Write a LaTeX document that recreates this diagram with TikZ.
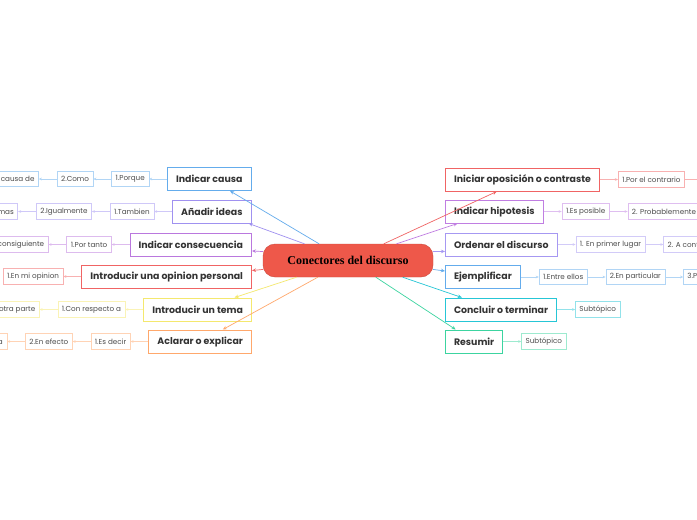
\documentclass[tikz,border=0pt]{standalone}
\usepackage{fontspec}
\setmainfont{Poppins}
\newfontfamily\hubfont{Liberation Serif}
\usetikzlibrary{arrows.meta,positioning}
\definecolor{hubred}{RGB}{238,88,74}
\definecolor{causablue}{RGB}{100,172,236}
\definecolor{ideaslav}{RGB}{160,145,240}
\definecolor{consecpurp}{RGB}{186,120,222}
\definecolor{opinionred}{RGB}{240,100,100}
\definecolor{temayellow}{RGB}{244,232,110}
\definecolor{aclararorange}{RGB}{255,168,108}
\definecolor{hipopurp}{RGB}{192,126,226}
\definecolor{ordenlav}{RGB}{166,152,242}
\definecolor{concluteal}{RGB}{38,198,214}
\definecolor{resumgreen}{RGB}{60,212,160}
\tikzset{
    % central topic (red pill)
    hubnode/.style={
        rectangle, rounded corners=12pt, draw=hubred!85!black, fill=hubred,
        minimum width=170pt, minimum height=33pt, inner sep=0pt,
        font=\hubfont\fontsize{12}{14}\selectfont\bfseries, text=black
    },
    % main topics, coloured frame
    topic/.style={
        rectangle, draw=#1, fill=white, line width=1pt,
        inner xsep=8.5pt, inner ysep=0pt, minimum height=23pt,
        font=\fontsize{9.4}{11}\selectfont\bfseries, text=black!80
    },
    % subtopics, lighter frame
    subtopic/.style={
        rectangle, draw=#1!50, fill=white, line width=0.6pt,
        inner xsep=4pt, inner ysep=0pt, minimum height=15.5pt,
        font=\fontsize{7.2}{9}\selectfont, text=black!70
    },
    % connectors
    branch/.style={draw=#1, line width=0.7pt, -{Stealth[length=4pt,width=3.5pt]}},
    twig/.style={draw=#1!50, line width=0.6pt, -{Stealth[length=3pt,width=2.6pt]}},
}

\begin{document}
\begin{tikzpicture}[x=1pt,y=-1pt]
      \fill[white] (0,0) rectangle (697,520);
      \useasboundingbox (0,0) rectangle (697,520);
      \node[hubnode] (hub) at (348,260.5) {Conectores del discurso};
      % left topics
      \node[topic=causablue,anchor=east]     (causa)   at (251.5,179)   {Indicar causa};
      \node[topic=ideaslav,anchor=east]      (ideas)   at (251.5,211.5) {Añadir ideas};
      \node[topic=consecpurp,anchor=east]    (consec)  at (252,244.5)   {Indicar consecuencia};
      \node[topic=opinionred,anchor=east]    (opinion) at (252,276.5)   {Introducir una opinion personal};
      \node[topic=temayellow,anchor=east]    (tema)    at (252,309.5)   {Introducir un tema};
      \node[topic=aclararorange,anchor=east] (aclarar) at (252,341.5)   {Aclarar o explicar};
      % right topics
      \node[topic=opinionred,anchor=west] (oposicion) at (445,179.5) {Iniciar oposición o contraste};
      \node[topic=hipopurp,anchor=west]   (hipotesis) at (445,211.5) {Indicar hipotesis};
      \node[topic=ordenlav,anchor=west]   (ordenar)   at (445,244.5) {Ordenar el discurso};
      \node[topic=causablue,anchor=west]  (ejemplo)   at (445,277)   {Ejemplificar};
      \node[topic=concluteal,anchor=west] (concluir)  at (445,309.5) {Concluir o terminar};
      \node[topic=resumgreen,anchor=west] (resumir)   at (445,341.5) {Resumir};
      % subtopics, left side
      \node[subtopic=causablue,left=18pt of causa]  (causa1) {1.Porque};
      \node[subtopic=causablue,left=18pt of causa1] (causa2) {2.Como};
      \node[subtopic=causablue,left=18pt of causa2] (causa3) {3.A causa de};
      \node[subtopic=ideaslav,left=18pt of ideas]   (ideas1) {1.Tambien};
      \node[subtopic=ideaslav,left=18pt of ideas1]  (ideas2) {2.Igualmente};
      \node[subtopic=ideaslav,left=18pt of ideas2]  (ideas3) {3.Ademas};
      \node[subtopic=consecpurp,left=18pt of consec]  (consec1) {1.Por tanto};
      \node[subtopic=consecpurp,left=18pt of consec1] (consec2) {2.Por consiguiente};
      \node[subtopic=opinionred,left=18pt of opinion] (opinion1) {1.En mi opinion};
      \node[subtopic=temayellow,left=18pt of tema]  (tema1) {1.Con respecto a};
      \node[subtopic=temayellow,left=18pt of tema1] (tema2) {2.Por otra parte};
      \node[subtopic=aclararorange,left=18pt of aclarar]  (aclarar1) {1.Es decir};
      \node[subtopic=aclararorange,left=18pt of aclarar1] (aclarar2) {2.En efecto};
      \node[subtopic=aclararorange,left=18pt of aclarar2] (aclarar3) {3.O sea};
      % subtopics, right side
      \node[subtopic=opinionred,right=18pt of oposicion] (oposicion1) {1.Por el contrario};
      \coordinate (oposicion2) at (712,179.5);
      \node[subtopic=hipopurp,right=18pt of hipotesis]  (hipotesis1) {1.Es posible};
      \node[subtopic=hipopurp,right=18pt of hipotesis1] (hipotesis2) {2. Probablemente};
      \node[subtopic=ordenlav,right=18pt of ordenar]  (ordenar1) {1. En primer lugar};
      \node[subtopic=ordenlav,right=18pt of ordenar1] (ordenar2) {2. A continuación};
      \node[subtopic=causablue,right=18pt of ejemplo]  (ejemplo1) {1.Entre ellos};
      \node[subtopic=causablue,right=18pt of ejemplo1] (ejemplo2) {2.En particular};
      \node[subtopic=causablue,right=18pt of ejemplo2] (ejemplo3) {3.Por ejemplo};
      \node[subtopic=concluteal,right=18pt of concluir] (concluir1) {Subtópico};
      \node[subtopic=resumgreen,right=18pt of resumir]  (resumir1)  {Subtópico};
      % branches from the centre
      \draw[branch=causablue]     (hub.150) -- (causa.-30);
      \draw[branch=ideaslav]      (hub.159) -- (ideas.-18);
      \draw[branch=consecpurp]    (hub.174) -- (consec.-6);
      \draw[branch=opinionred]    (hub.186) -- (opinion.4);
      \draw[branch=temayellow]    (hub.198) -- (tema.18);
      \draw[branch=aclararorange] (hub.209) -- (aclarar.28);
      \draw[branch=opinionred]    (hub.25)  -- (oposicion.205);
      \draw[branch=hipopurp]      (hub.19)  -- (hipotesis.198);
      \draw[branch=ordenlav]      (hub.6)   -- (ordenar.187);
      \draw[branch=causablue]     (hub.-6)  -- (ejemplo.171);
      \draw[branch=concluteal]    (hub.-17) -- (concluir.163);
      \draw[branch=resumgreen]    (hub.-31) -- (resumir.147);
      % chains of subtopics
      \foreach \a/\b/\c in {causa/causa1/causablue,causa1/causa2/causablue,causa2/causa3/causablue,
          ideas/ideas1/ideaslav,ideas1/ideas2/ideaslav,ideas2/ideas3/ideaslav,
          consec/consec1/consecpurp,consec1/consec2/consecpurp,opinion/opinion1/opinionred,
          tema/tema1/temayellow,tema1/tema2/temayellow,
          aclarar/aclarar1/aclararorange,aclarar1/aclarar2/aclararorange,aclarar2/aclarar3/aclararorange,
          oposicion/oposicion1/opinionred,hipotesis/hipotesis1/hipopurp,hipotesis1/hipotesis2/hipopurp,
          ordenar/ordenar1/ordenlav,ordenar1/ordenar2/ordenlav,
          ejemplo/ejemplo1/causablue,ejemplo1/ejemplo2/causablue,ejemplo2/ejemplo3/causablue,
          concluir/concluir1/concluteal,resumir/resumir1/resumgreen}
        \draw[twig=\c] (\a) -- (\b);
      \draw[opinionred!50,line width=0.6pt] (oposicion1) -- (oposicion2);
    \end{tikzpicture}
\end{document}
